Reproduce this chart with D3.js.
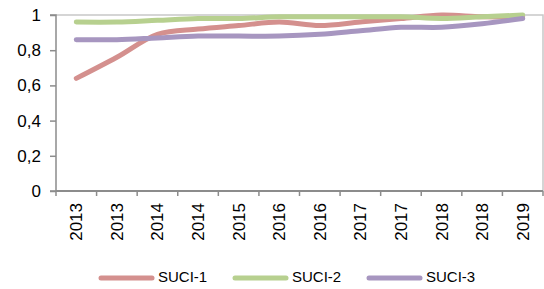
<!DOCTYPE html>
<html><head><meta charset="utf-8">
<script src="https://cdn.jsdelivr.net/npm/d3@7"></script>
<style>body{margin:0;background:#fff;}svg{display:block;font-family:"Liberation Sans",Arial,sans-serif;}</style>
</head><body><svg id="c" width="544" height="289"></svg>
<script>
const categories = ["2013","2013","2014","2014","2015","2016","2016","2017","2017","2018","2018","2019"];
const suci1 = [0.64,0.76,0.89,0.92,0.94,0.96,0.94,0.96,0.98,1.0,0.99,0.99];
const suci2 = [0.96,0.96,0.97,0.98,0.98,0.99,0.99,0.99,0.99,0.98,0.99,1.0];
const suci3 = [0.86,0.86,0.87,0.88,0.88,0.88,0.89,0.91,0.93,0.93,0.95,0.98];
const seriesNames = ["SUCI-1","SUCI-2","SUCI-3"];
const yTicks = [0,0.2,0.4,0.6,0.8,1];
const colors = ["#d4908e","#b7d08f","#a796c0"];

const svg = d3.select("#c");
const L=56,R=543,T=15,B=191;
const idx = categories.map((d,i)=>i);
const x = d3.scaleBand().domain(idx).range([L,R]).padding(0);
const y = d3.scaleLinear().domain([0,1]).range([B,T]);

svg.append("path").attr("d",`M${L},${T}H${R}V${B}`).attr("fill","none").attr("stroke","#c8c8c8").attr("stroke-width",1.5);

const ya = svg.append("g").attr("transform",`translate(${L},0)`)
  .call(d3.axisLeft(y).tickValues(yTicks).tickSize(6).tickPadding(9).tickFormat(d=>String(d).replace(".",",")));
ya.select(".domain").attr("stroke","#8c8c8c").attr("stroke-width",1.5).attr("d",`M-6,${B}H0V${T}H-6`);
ya.selectAll(".tick line").attr("stroke","#8c8c8c").attr("stroke-width",1.5);
ya.selectAll("text").attr("font-size",17).attr("fill","#000").attr("font-family","Liberation Sans, Arial, sans-serif");

const xa = svg.append("g").attr("transform",`translate(0,${B})`);
xa.append("line").attr("x1",L).attr("x2",R).attr("y1",0).attr("y2",0).attr("stroke","#8c8c8c").attr("stroke-width",2);
const bounds = idx.map(i=>x(i)).concat([x(idx[idx.length-1])+x.bandwidth()]);
xa.selectAll("line.t").data(bounds).enter().append("line")
  .attr("x1",d=>d).attr("x2",d=>d).attr("y1",0).attr("y2",5).attr("stroke","#8c8c8c").attr("stroke-width",1.5);
xa.selectAll("text").data(categories).enter().append("text")
  .attr("transform",(d,i)=>`translate(${x(i)+x.bandwidth()/2+6},${12}) rotate(-90)`)
  .attr("text-anchor","end").attr("font-size",17).attr("fill","#000").text(d=>d);

const line = d3.line().x((d,i)=>x(i)+x.bandwidth()/2).y(d=>y(d)).curve(d3.curveCatmullRom.alpha(0.5));
[suci1,suci2,suci3].forEach((s,k)=>{
  svg.append("path").datum(s).attr("d",line).attr("fill","none")
    .attr("stroke",colors[k]).attr("stroke-width",5).attr("stroke-linecap","round").attr("stroke-linejoin","round");
});

const legX = [99,233,367];
seriesNames.forEach((n,k)=>{
  const g = svg.append("g");
  g.append("line").attr("x1",legX[k]+2).attr("x2",legX[k]+53).attr("y1",278).attr("y2",278)
    .attr("stroke",colors[k]).attr("stroke-width",5).attr("stroke-linecap","round");
  g.append("text").attr("x",legX[k]+59).attr("y",282).attr("font-size",15).attr("fill","#000").text(n);
});
</script></body></html>
